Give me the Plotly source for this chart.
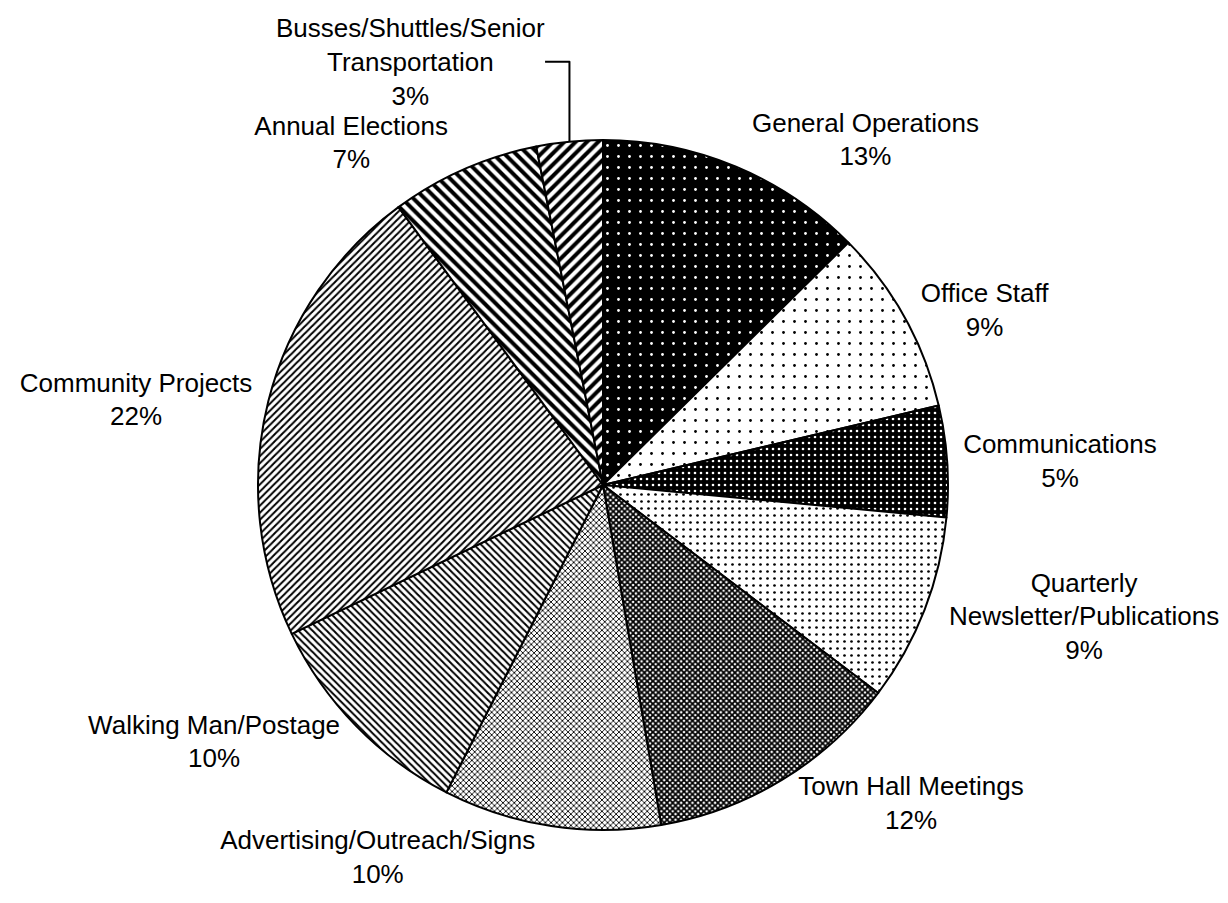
import plotly.graph_objects as go

categories = [
    "General Operations",
    "Office Staff",
    "Communications",
    "Quarterly<br>Newsletter/Publications",
    "Town Hall Meetings",
    "Advertising/Outreach/Signs",
    "Walking Man/Postage",
    "Community Projects",
    "Annual Elections",
    "Busses/Shuttles/Senior<br>Transportation",
]
shares = [12.6, 8.7, 5.2, 8.8, 12.0, 10.2, 10.4, 22.0, 7.0, 3.1]

# fill pattern per slice (shape, bg, fg, size, solidity)
pattern_shapes = [".", ".", ".", ".", "x", "x", "\\", "/", "\\", "/"]
pattern_bg = ["black", "white", "black", "white", "white", "white", "white", "white", "white", "white"]
pattern_fg = ["white", "black", "white", "black", "black", "black", "black", "black", "black", "black"]
pattern_size = [11, 11, 6, 7, 4, 4, 5, 5, 8, 8]
pattern_solid = [0.05, 0.05, 0.15, 0.12, 0.7, 0.4, 0.4, 0.4, 0.5, 0.5]

fig = go.Figure()
fig.add_trace(go.Pie(
    labels=categories,
    values=shares,
    sort=False,
    direction="clockwise",
    rotation=0,
    texttemplate="%{label}<br>%{percent:.0%}",
    textposition="outside",
    textfont=dict(family="Liberation Sans, Arial, sans-serif", size=26, color="black"),
    marker=dict(
        colors=pattern_bg,
        line=dict(color="black", width=2),
        pattern=dict(
            shape=pattern_shapes,
            bgcolor=pattern_bg,
            fgcolor=pattern_fg,
            size=pattern_size,
            solidity=pattern_solid,
            fillmode="replace",
        ),
    ),
    domain=dict(x=[250 / 1228, 940 / 1228], y=[81 / 903, 771 / 903]),
    showlegend=False,
))

fig.update_layout(
    width=1228,
    height=903,
    margin=dict(l=0, r=0, t=0, b=0),
    paper_bgcolor="white",
    plot_bgcolor="white",
)

fig.write_html("out.html")
